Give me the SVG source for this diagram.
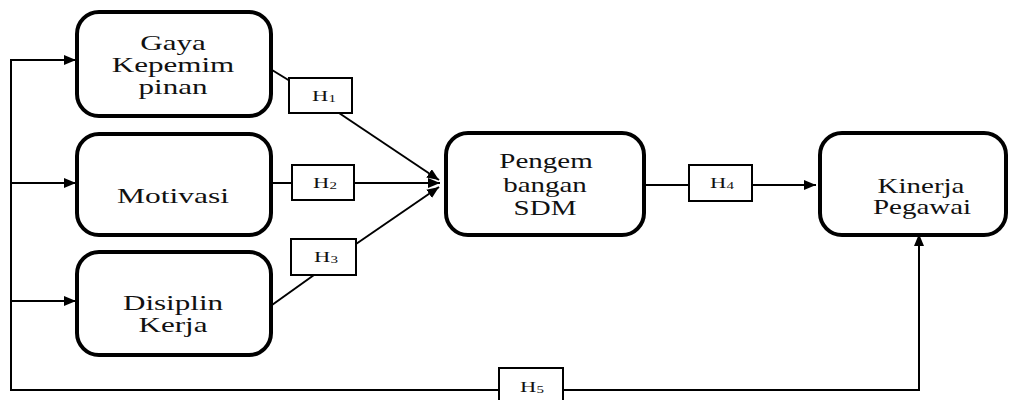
<svg xmlns="http://www.w3.org/2000/svg" width="1010" height="400" viewBox="0 0 1010 400">
<style>
.node{fill:#fff;stroke:#000;stroke-width:4}
.hbox{fill:#fff;stroke:#000;stroke-width:2}
.t{font-family:'Liberation Serif','DejaVu Serif',serif;font-size:21px;fill:#111;text-anchor:middle}
.h{font-family:'Liberation Serif','DejaVu Serif',serif;font-size:15px;fill:#111;text-anchor:middle}
.sub{font-size:10px}
.c{fill:none;stroke:#000;stroke-width:2}
</style>
<defs>
<marker id="ar" viewBox="0 0 12 10" refX="12" refY="5" markerWidth="12" markerHeight="10" markerUnits="userSpaceOnUse" orient="auto">
<path d="M0,0 L12,5 L0,10 z" fill="#000"/>
</marker>
</defs>
<rect width="1010" height="400" fill="#fff"/>
<g id="connectors">
<path class="c" d="M498,390 H11 V60 H76" marker-end="url(#ar)"/>
<path class="c" d="M11,183 H76" marker-end="url(#ar)"/>
<path class="c" d="M11,301 H76" marker-end="url(#ar)"/>
<path class="c" d="M272,70 L290,81"/>
<path class="c" d="M339,113 L439,180" marker-end="url(#ar)"/>
<path class="c" d="M272,183 H292"/>
<path class="c" d="M354,183 H440" marker-end="url(#ar)"/>
<path class="c" d="M272,305 L314,275"/>
<path class="c" d="M356,244 L439,187" marker-end="url(#ar)"/>
<path class="c" d="M645,185 H689"/>
<path class="c" d="M752,185 H816" marker-end="url(#ar)"/>
<path class="c" d="M563,390 H919 V234" marker-end="url(#ar)"/>
</g>
<g id="gaya">
<rect class="node" x="77" y="12" width="194" height="104" rx="22"/>
<text class="t" transform="translate(173,50) scale(1.48,1)">Gaya</text>
<text class="t" transform="translate(173,72) scale(1.48,1)">Kepemim</text>
<text class="t" transform="translate(173,94) scale(1.48,1)">pinan</text>
</g>
<g id="motivasi">
<rect class="node" x="77" y="134" width="194" height="101" rx="22"/>
<text class="t" transform="translate(173,203) scale(1.5,1)">Motivasi</text>
</g>
<g id="disiplin">
<rect class="node" x="77" y="252" width="194" height="103" rx="22"/>
<text class="t" transform="translate(173,310) scale(1.48,1)">Disiplin</text>
<text class="t" transform="translate(173,332) scale(1.48,1)">Kerja</text>
</g>
<g id="pengembangan">
<rect class="node" x="446" y="133" width="198" height="102" rx="22"/>
<text class="t" transform="translate(546,168) scale(1.38,1)">Pengem</text>
<text class="t" transform="translate(545,192) scale(1.38,1)">bangan</text>
<text class="t" transform="translate(545,215) scale(1.38,1)">SDM</text>
</g>
<g id="kinerja">
<rect class="node" x="820" y="133" width="186" height="102" rx="22"/>
<text class="t" transform="translate(921,193) scale(1.38,1)">Kinerja</text>
<text class="t" transform="translate(922,214) scale(1.38,1)">Pegawai</text>
</g>
<g id="h1">
<rect class="hbox" x="289" y="78" width="63" height="35"/>
<text class="h" transform="translate(324,101) scale(1.5,1)">H<tspan class="sub" dy="1">1</tspan></text>
</g>
<g id="h2">
<rect class="hbox" x="292" y="165" width="62" height="35"/>
<text class="h" transform="translate(325,188) scale(1.5,1)">H<tspan class="sub" dy="1">2</tspan></text>
</g>
<g id="h3">
<rect class="hbox" x="291" y="239" width="65" height="36"/>
<text class="h" transform="translate(326,262) scale(1.5,1)">H<tspan class="sub" dy="1">3</tspan></text>
</g>
<g id="h4">
<rect class="hbox" x="689" y="165" width="63" height="36"/>
<text class="h" transform="translate(722,188) scale(1.5,1)">H<tspan class="sub" dy="1">4</tspan></text>
</g>
<g id="h5">
<rect class="hbox" x="499" y="368" width="64" height="36"/>
<text class="h" transform="translate(532,392) scale(1.5,1)">H<tspan class="sub" dy="1">5</tspan></text>
</g>
</svg>
